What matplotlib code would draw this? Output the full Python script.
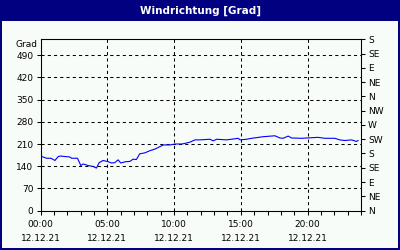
import matplotlib
matplotlib.use('Agg')
from matplotlib import pyplot as plt
from matplotlib.patches import Rectangle

# Stunden seit 00:00 und Windrichtung in Grad
stunden = [0.0, 0.45, 0.78, 1.08, 1.32, 1.45, 2.2, 2.32, 2.77, 3.02, 3.19, 3.57,
           3.94, 4.19, 4.39, 4.69, 5.07, 5.31, 5.56, 5.81, 6.01, 6.36, 6.69, 6.93,
           7.18, 7.43, 7.81, 8.2, 8.58, 8.95, 9.2, 9.7, 10.07, 10.58, 10.82, 11.2,
           11.57, 11.94, 12.69, 12.94, 13.19, 13.94, 14.81, 14.94, 15.44, 15.81,
           16.68, 17.55, 17.93, 18.17, 18.55, 18.8, 19.55, 20.79, 21.3, 22.04,
           22.41, 22.79, 23.29, 23.66, 23.78]
grad = [172, 165, 165, 158, 170, 172, 169, 165, 165, 142, 147, 142,
        139, 134, 151, 158, 154, 150, 151, 160, 150, 154, 155, 162,
        161, 179, 182, 189, 194, 202, 207, 207, 210, 210, 212, 216,
        223, 223, 225, 220, 225, 223, 228, 223, 225, 228,
        233, 236, 229, 228, 235, 229, 228, 231, 228, 228,
        223, 221, 223, 218, 221]

y_ticks = [0, 70, 140, 210, 280, 350, 420, 490]
richtung_ticks = [0, 45, 90, 135, 180, 225, 270, 315, 360, 405, 450, 495, 540]
richtung_labels = ['N', 'NE', 'E', 'SE', 'S', 'SW', 'W', 'NW', 'N', 'NE', 'E', 'SE', 'S']
x_ticks = [0, 5, 10, 15, 20]
x_labels = ['00:00\n12.12.21', '05:00\n12.12.21', '10:00\n12.12.21',
            '15:00\n12.12.21', '20:00\n12.12.21']

W, H = 400, 250
fig = plt.figure(figsize=(4, 2.5), dpi=100)
fig.patch.set_facecolor('#000080')

# heller Innenbereich unter der Titelleiste
fig.patches.append(Rectangle((2 / W, 2 / H), 396 / W, 227 / H,
                             transform=fig.transFigure, facecolor='#F8FCF8',
                             edgecolor='none', zorder=-10))
fig.text(0.5, 1 - 11 / H, 'Windrichtung [Grad]', color='white', fontsize=7.5,
         fontweight='bold', ha='center', va='center')

ax = fig.add_axes([40.5 / W, (H - 210.5) / H, 320.5 / W, 171 / H])
ax.set_facecolor('#F8FCF8')
ax.plot(stunden, grad, color='#0000FF', lw=0.8)
ax.set_xlim(0, 24)
ax.set_ylim(0, 540)

ax.set_xticks(x_ticks)
ax.set_xticklabels(x_labels, linespacing=1.75)
ax.set_xticks(range(25), minor=True)
ax.set_yticks(y_ticks)
ax.tick_params(axis='both', labelsize=6.5, length=3, width=0.75, color='black', pad=2)
ax.tick_params(axis='x', which='minor', length=3, width=0.75)
ax.tick_params(axis='x', pad=4)
ax.grid(True, color='black', linestyle=(0, (3, 3)), linewidth=0.75)
for s in ax.spines.values():
    s.set_linewidth(0.75)
    s.set_color('black')

ax2 = ax.twinx()
ax2.set_ylim(0, 540)
ax2.set_yticks(richtung_ticks)
ax2.set_yticklabels(richtung_labels)
ax2.tick_params(axis='y', labelsize=6.5, length=3, width=0.75, pad=2)
for s in ax2.spines.values():
    s.set_linewidth(0.75)

fig.text(37 / W, 1 - 45 / H, 'Grad', fontsize=6.5, ha='right', va='center')

fig.savefig('out.png', dpi=100, facecolor=fig.get_facecolor())
